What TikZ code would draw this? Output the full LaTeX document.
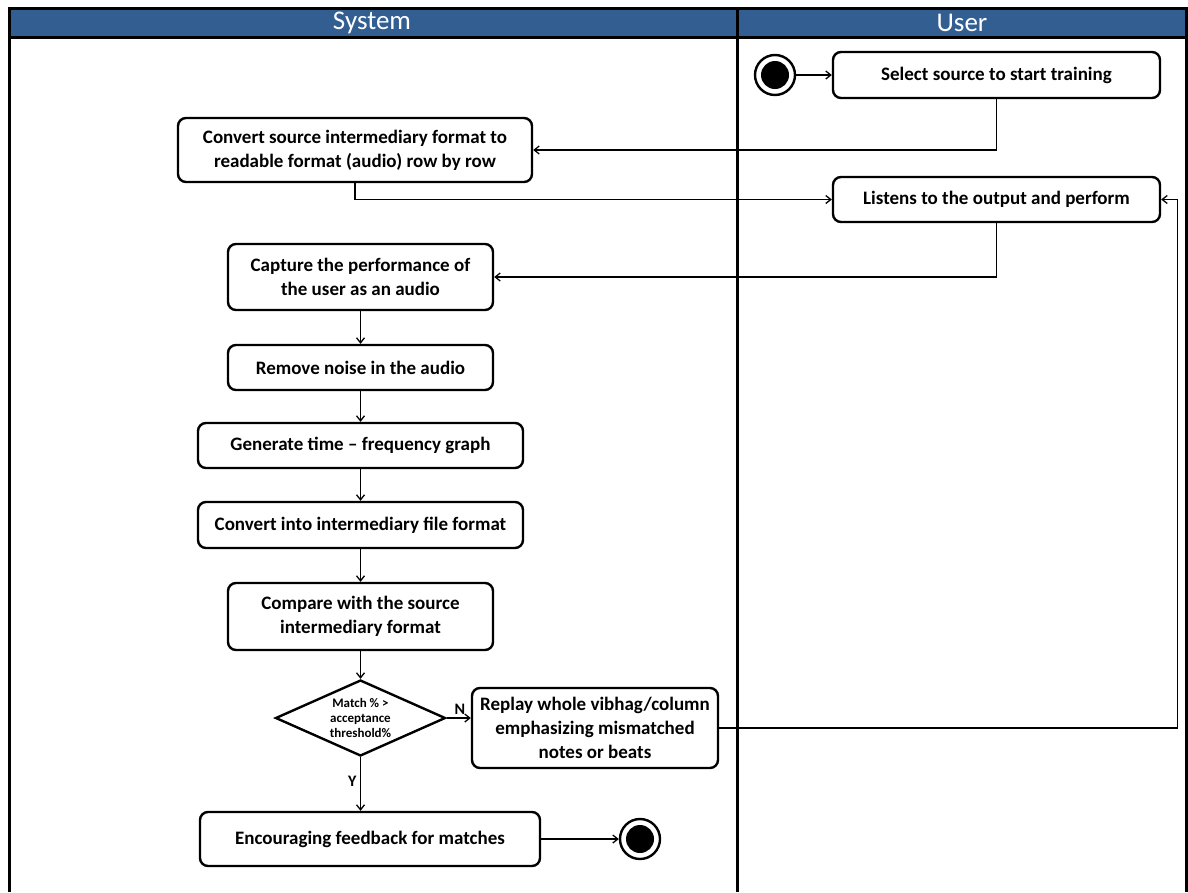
\documentclass[tikz,border=0pt]{standalone}
\usepackage{fontspec}
\setmainfont{Carlito}
\usetikzlibrary{arrows.meta,shapes.geometric}
\definecolor{lanehead}{HTML}{335E92}

\begin{document}
\begin{tikzpicture}[x=1pt,y=-1pt,>={Straight Barb[length=5pt,width=8pt]},
  act/.style={draw,line width=2.4pt,rounded corners=8pt,fill=white,align=center,inner sep=2pt,font=\bfseries\fontsize{19}{24}\selectfont},
  cond/.style={diamond,draw,line width=2.4pt,fill=white,inner sep=0pt,minimum width=170pt,minimum height=76pt},
  condtext/.style={align=center,font=\bfseries\fontsize{13}{15}\selectfont},
  terminal/.style={circle,draw,line width=2.4pt,minimum size=40pt,inner sep=0pt,fill=white,path picture={\fill[black] (path picture bounding box.center) circle (14pt);}},
  flow/.style={->,line width=1.3pt},
  lbl/.style={font=\bfseries\fontsize{16}{18}\selectfont}]
\useasboundingbox (0,0) rectangle (1188,892);
% swimlanes
\fill[lanehead] (9,8) rectangle (1186,37);
\draw[line width=3pt] (9,892) -- (9,8) -- (1186,8) -- (1186,892);
\draw[line width=3pt] (9,37) -- (1186,37);
\draw[line width=3pt] (737,8) -- (737,892);
\node[text=white,font=\fontsize{27}{30}\selectfont] (hsys) at (372,23) {System};
\node[text=white,font=\fontsize{27}{30}\selectfont] (husr) at (962,23) {User};
% user side
\node[terminal] (start) at (775,75) {};
\node[act,minimum width=327pt,minimum height=46pt] (select) at (996.5,75) {Select source to start training};
\node[act,minimum width=327pt,minimum height=45pt] (listen) at (996.5,199.5) {Listens to the output and perform};
% system side
\node[act,minimum width=354pt,minimum height=64pt] (play) at (355,150) {Convert source intermediary format to\\readable format (audio) row by row};
\node[act,minimum width=265pt,minimum height=66pt] (capture) at (360.5,277) {Capture the performance of\\the user as an audio};
\node[act,minimum width=265pt,minimum height=45pt] (noise) at (360.5,367.5) {Remove noise in the audio};
\node[act,minimum width=325pt,minimum height=45pt] (graph) at (360.5,445.5) {Generate time -- frequency graph};
\node[act,minimum width=325pt,minimum height=46pt] (tofile) at (360.5,525) {Convert into intermediary file format};
\node[act,minimum width=265pt,minimum height=67pt] (compare) at (360.5,616.5) {Compare with the source\\intermediary format};
\node[cond,label={[condtext]center:Match \% >\\acceptance\\threshold\%}] (match) at (360.5,718) {};
\node[act,minimum width=246pt,minimum height=80pt] (replay) at (595,728) {Replay whole vibhag/column\\emphasizing mismatched\\notes or beats};
\node[act,minimum width=340pt,minimum height=54pt] (praise) at (370,839) {Encouraging feedback for matches};
\node[terminal] (stop) at (640,839) {};
% connectors
\draw[flow] (start) -- (select);
\draw[flow] (select.south) |- (play.east);
\draw[flow] (play.south) |- (listen.west);
\draw[flow] (listen.south) |- (capture.east);
\draw[flow] (capture) -- (noise);
\draw[flow] (noise) -- (graph);
\draw[flow] (graph) -- (tofile);
\draw[flow] (tofile) -- (compare);
\draw[flow] (compare) -- (match);
\draw[flow] (match.east) -- node[lbl,above,pos=0.55]{N} (match.east -| replay.west);
\draw[flow] (replay.east) -| ([xshift=16pt]listen.east) -- (listen.east);
\draw[flow] (match.south) -- node[lbl,left,pos=0.45]{Y} (praise.north -| match.south);
\draw[flow] (praise) -- (stop);
\end{tikzpicture}
\end{document}
